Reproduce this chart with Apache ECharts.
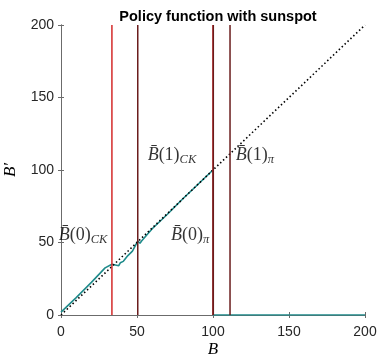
<!DOCTYPE html>
<html><head><meta charset="utf-8">
<script src="https://cdn.jsdelivr.net/npm/echarts@6/dist/echarts.min.js"></script>
<style>html,body{margin:0;padding:0;background:#fff}#c{width:378px;height:354px}</style>
</head><body><div id="c"></div>
<script>
// Policy function (teal)
const policyB  = [0, 10, 20, 29, 33.5, 33.5, 38, 39, 41, 44, 47, 49, 50.5, 51, 52, 53, 60, 70, 80, 90, 100, 100, 200];
const policyBp = [2, 12, 22.5, 32.5, 35, 34, 34, 36, 37, 41, 44, 48, 51, 50, 49.5, 51, 59.5, 69.5, 80, 90, 100, 0, 0];
// 45-degree line
const diagB = [0, 200];
// Thresholds (vertical lines)
const thrRed  = [33.5, 100];
const thrDark = [50.5, 100.2, 111.2];
// Annotations
const annText = ['0|CK', '1|CK', '0|π', '1|π'];
const annB    = [14.5, 73, 85, 127.5];
const annBp   = [55, 110, 55, 110];
// Ticks
const ticks = [0, 50, 100, 150, 200];

const chart = echarts.init(document.getElementById('c'));
const axisCol = '#6b6b6b';
function vline(x, color) {
  return {type:'line', xAxisIndex:0, yAxisIndex:0, data:[[x,0],[x,200]], symbol:'none',
    lineStyle:{color:color, width:1.5}, silent:true, z:6};
}
const series = [];
series.push({type:'line', data: policyB.map((b,i)=>[b, policyBp[i]]), symbol:'none',
  lineStyle:{color:'#1f8b8b', width:1.6}, z:3});
series.push({type:'line', data: diagB.map(v=>[v,v]), symbol:'none',
  lineStyle:{color:'#000', width:1.6, type:[1.5,2.5]}, z:4});
thrRed.forEach(x => series.push(vline(x, '#d42a2a')));
thrDark.forEach(x => series.push(vline(x, '#6a1c1c')));
series.push({type:'scatter', symbolSize:0, z:7,
  data: annText.map((t,i)=>({value:[annB[i], annBp[i]], name:t})),
  label:{show:true, position:'inside', formatter: p => {
    const [n, s] = p.name.split('|');
    return '{b|B̄}{n|(' + n + ')}{s|' + s + '}';
  }, rich:{
    b:{fontFamily:'Liberation Serif', fontStyle:'italic', fontSize:18, color:'#000'},
    n:{fontFamily:'Liberation Serif', fontSize:18, color:'#000'},
    s:{fontFamily:'Liberation Serif', fontStyle:'italic', fontSize:12.5, color:'#000', verticalAlign:'bottom', padding:[9,0,0,0]}
  }}});

chart.setOption({
  animation:false,
  title:{text:'Policy function with sunspot', left:213, top:4, textAlign:'center',
    textStyle:{fontFamily:'Liberation Sans', fontWeight:'bold', fontSize:14.5, color:'#000'}},
  grid:{left:61, right:13, top:25, bottom:39, containLabel:false, outerBoundsMode:'none'},
  xAxis:[
    {type:'value', min:0, max:200, interval:50, position:'bottom',
     axisLine:{lineStyle:{color:axisCol}}, axisTick:{inside:true, length:3, lineStyle:{color:axisCol}},
     axisLabel:{fontFamily:'Liberation Sans', fontSize:14, color:'#262626', margin:10},
     splitLine:{show:false},
     name:'B', nameLocation:'middle', nameGap:26, nameMoveOverlap:false,
     nameTextStyle:{fontFamily:'Liberation Serif', fontStyle:'italic', fontSize:17, color:'#000'}},
    {type:'value', min:0, max:200, interval:50, position:'top',
     axisLine:{lineStyle:{color:axisCol}}, axisTick:{inside:true, length:3, lineStyle:{color:axisCol}},
     axisLabel:{show:false}, splitLine:{show:false}}
  ],
  yAxis:[
    {type:'value', min:0, max:200, interval:50, position:'left',
     axisLine:{lineStyle:{color:axisCol}}, axisTick:{inside:true, length:3, lineStyle:{color:axisCol}},
     axisLabel:{fontFamily:'Liberation Sans', fontSize:14, color:'#262626', margin:7},
     splitLine:{show:false},
     name:'B′', nameLocation:'middle', nameGap:42, nameRotate:90, nameMoveOverlap:false,
     nameTextStyle:{fontFamily:'Liberation Serif', fontStyle:'italic', fontSize:17, color:'#000'}},
    {type:'value', min:0, max:200, interval:50, position:'right',
     axisLine:{lineStyle:{color:axisCol}}, axisTick:{inside:true, length:3, lineStyle:{color:axisCol}},
     axisLabel:{show:false}, splitLine:{show:false}}
  ],
  series: series
});
</script></body></html>
